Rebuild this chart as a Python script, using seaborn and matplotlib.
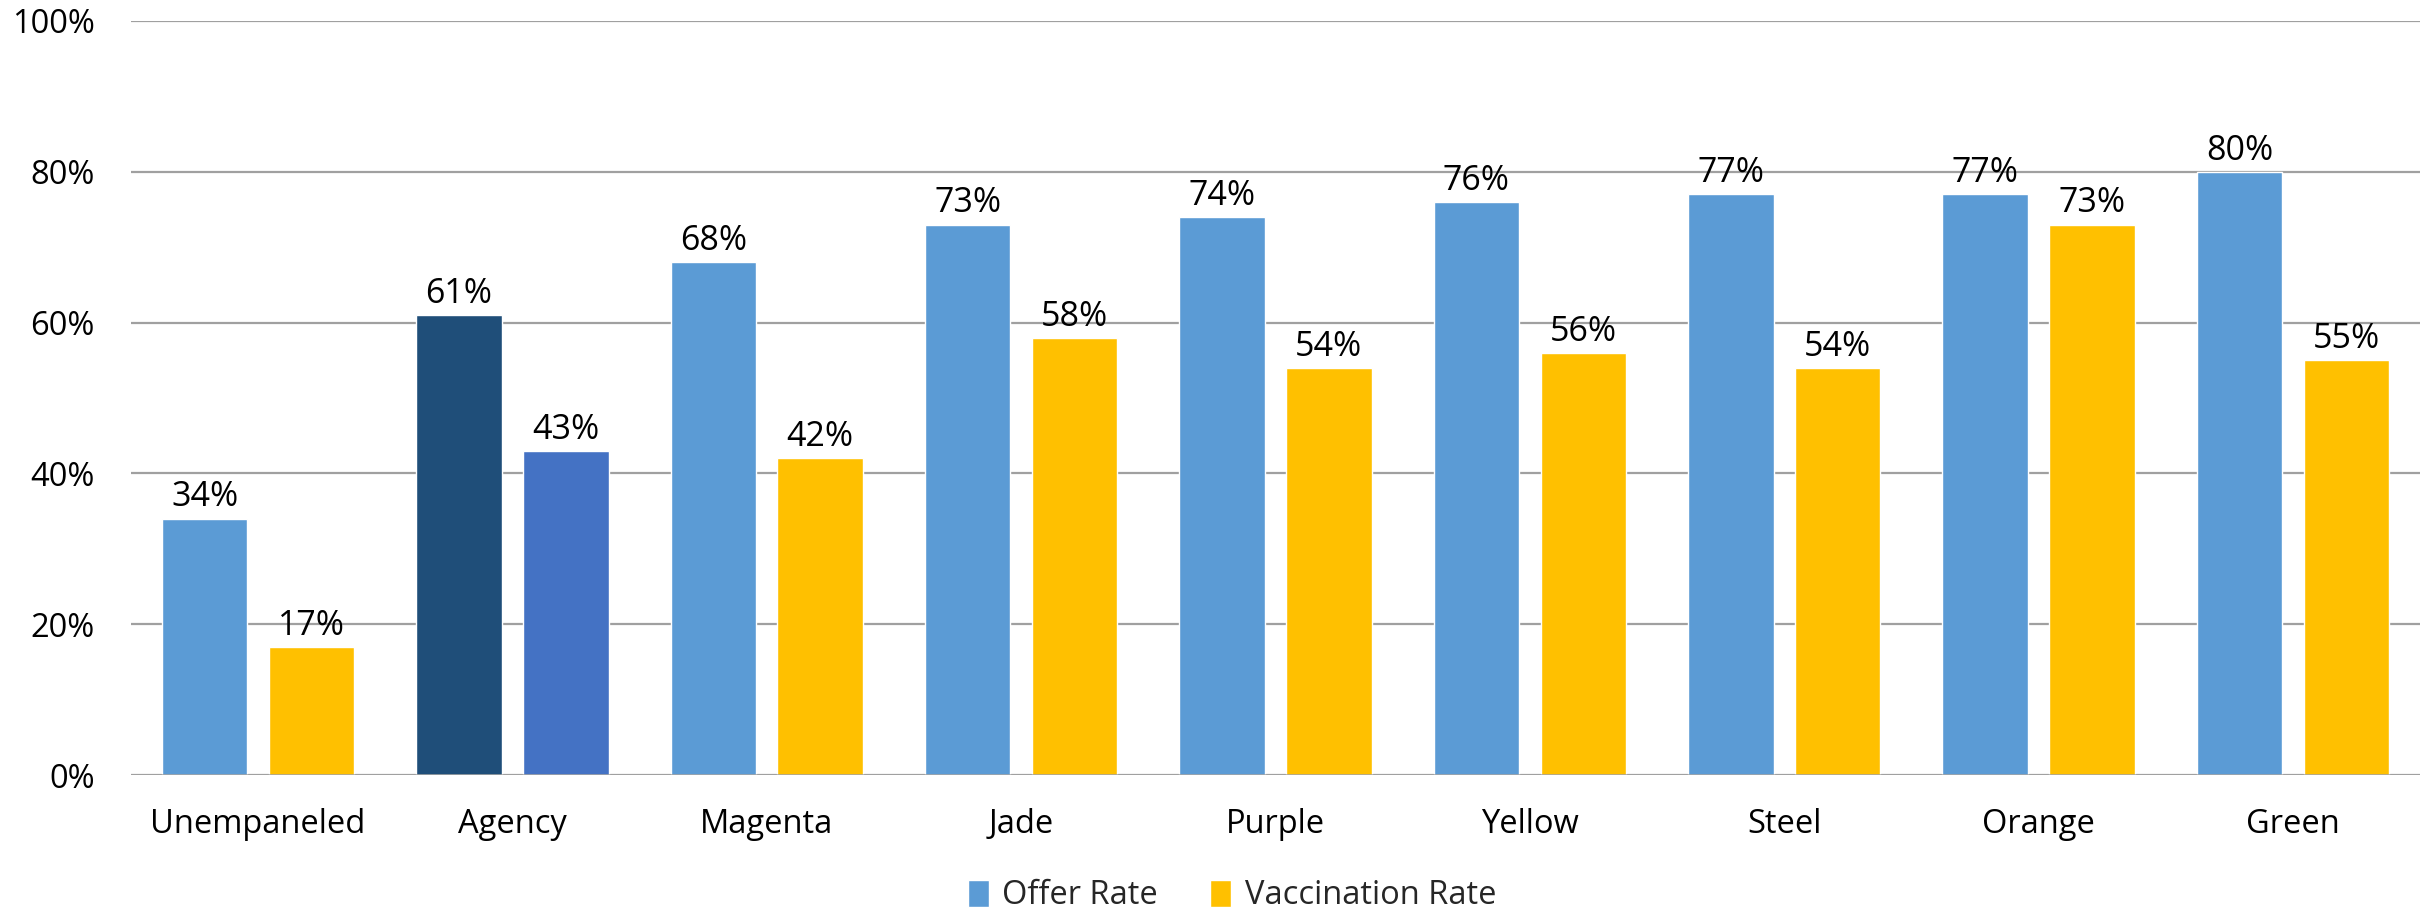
import matplotlib
matplotlib.use("Agg")
import matplotlib.pyplot as plt
from matplotlib.patches import Patch
import seaborn as sns
import pandas as pd

categories = ["Unempaneled", "Agency", "Magenta", "Jade", "Purple",
              "Yellow", "Steel", "Orange", "Green"]
offer_rate = [34, 61, 68, 73, 74, 76, 77, 77, 80]
vaccination_rate = [17, 43, 42, 58, 54, 56, 54, 73, 55]
series_names = ["Offer Rate", "Vaccination Rate"]
y_ticks = [0, 20, 40, 60, 80, 100]

offer_color = "#5B9BD5"
vacc_color = "#FFC000"
agency_offer_color = "#1F4E79"
agency_vacc_color = "#4472C4"
grid_color = "#A0A0A0"

df = pd.DataFrame({
    "category": categories * 2,
    "series": [series_names[0]] * len(categories) + [series_names[1]] * len(categories),
    "value": offer_rate + vaccination_rate,
})

sns.set_theme(style="white")
plt.rcParams["font.family"] = ["Open Sans", "DejaVu Sans"]
FS = 23.5

fig = plt.figure(figsize=(24.33, 9.16), dpi=100)
ax = fig.add_axes([0.0538, 0.1539, 0.9409, 0.8232])

sns.barplot(data=df, x="category", y="value", hue="series",
            order=categories, hue_order=series_names,
            palette=[offer_color, vacc_color], width=0.84, gap=0.2,
            saturation=1, legend=False, ax=ax, zorder=3)

# Agency bars use their own shades of blue
agency_idx = categories.index("Agency")
ax.containers[0][agency_idx].set_facecolor(agency_offer_color)
ax.containers[1][agency_idx].set_facecolor(agency_vacc_color)

for cont in ax.containers:
    ax.bar_label(cont, labels=[f"{v:.0f}%" for v in cont.datavalues],
                 padding=3, fontsize=24.5, color="#000000")

ax.set_ylim(0, 100)
ax.set_xlim(-0.5, len(categories) - 0.5)
ax.set_yticks(y_ticks)
ax.set_yticklabels([f"{t}%" for t in y_ticks])
ax.yaxis.grid(True, color=grid_color, linewidth=1.6, zorder=0)
ax.set_axisbelow(True)
for s in ax.spines.values():
    s.set_visible(False)
ax.axhline(0, color=grid_color, linewidth=1.8, zorder=4)
ax.tick_params(axis="y", length=0, pad=26, labelsize=FS, labelcolor="#000000")
ax.tick_params(axis="x", length=0, pad=24, labelsize=FS, labelcolor="#000000")
ax.set_xlabel("")
ax.set_ylabel("")

handles = [Patch(facecolor=offer_color), Patch(facecolor=vacc_color)]
fig.legend(handles, series_names, loc="center", bbox_to_anchor=(1232 / 2433, 1 - 896 / 916),
           ncol=2, frameon=False, fontsize=FS, handlelength=0.65, handleheight=0.9,
           handletextpad=0.4, columnspacing=1.6)

fig.savefig("out.png", dpi=100)
